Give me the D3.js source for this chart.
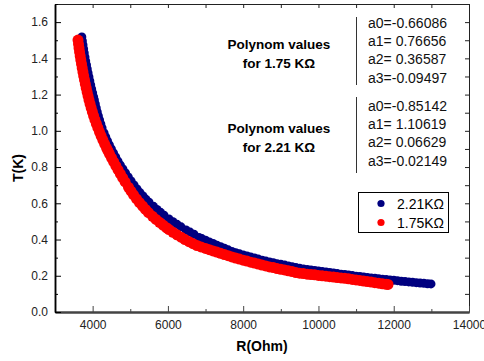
<!DOCTYPE html>
<html>
<head>
<meta charset="utf-8">
<script src="https://cdn.jsdelivr.net/npm/d3@7"></script>
<style>
  body { margin: 0; background: #fff; }
  svg { display: block; font-family: "Liberation Sans", Arial, sans-serif; }
</style>
</head>
<body>
<svg width="484" height="361"></svg>
<script>
// 2.21 kOhm sensor, [R (Ohm), T (K)]
const data221 = [
  [3713,1.518],[3728,1.496],[3744,1.474],[3761,1.452],[3778,1.430],[3797,1.407],[3816,1.385],[3837,1.363],
  [3857,1.341],[3879,1.319],[3902,1.297],[3925,1.275],[3949,1.253],[3974,1.231],[4000,1.209],[4027,1.187],
  [4047,1.170],[4071,1.148],[4096,1.126],[4123,1.104],[4152,1.082],[4184,1.060],[4217,1.038],[4251,1.016],
  [4304,0.988],[4348,0.966],[4395,0.944],[4445,0.922],[4498,0.900],[4554,0.878],[4612,0.856],[4673,0.833],
  [4737,0.811],[4804,0.789],[4874,0.767],[4946,0.745],[5021,0.723],[5099,0.701],[5179,0.679],[5258,0.659],
  [5338,0.640],[5418,0.622],[5498,0.606],[5617,0.583],[5710,0.566],[5803,0.550],[5896,0.534],[6029,0.514],
  [6135,0.498],[6242,0.484],[6348,0.470],[6481,0.453],[6587,0.441],[6693,0.429],[6826,0.411],[6900,0.405],
  [7000,0.396],[7100,0.387],[7200,0.378],[7300,0.369],[7400,0.360],[7500,0.352],[7600,0.343],[7700,0.334],
  [7800,0.327],[7900,0.321],[8000,0.315],[8100,0.309],[8200,0.303],[8300,0.298],[8400,0.292],[8500,0.286],
  [8600,0.281],[8700,0.276],[8800,0.272],[8900,0.267],[9000,0.263],[9100,0.259],[9200,0.254],[9300,0.250],
  [9400,0.245],[9500,0.241],[9600,0.238],[9700,0.235],[9800,0.232],[9900,0.229],[10000,0.226],[10100,0.223],
  [10200,0.221],[10300,0.218],[10400,0.215],[10500,0.212],[10600,0.209],[10700,0.207],[10800,0.204],[10900,0.201],
  [11000,0.198],[11100,0.196],[11200,0.193],[11300,0.190],[11400,0.188],[11500,0.186],[11600,0.184],[11700,0.181],
  [11800,0.179],[11900,0.177],[12000,0.175],[12100,0.173],[12200,0.170],[12300,0.168],[12400,0.166],[12500,0.164],
  [12600,0.162],[12700,0.160],[12800,0.158],[12900,0.156],[12990,0.155]
];

// 1.75 kOhm sensor
const data175 = [
  [3611,1.501],[3624,1.479],[3638,1.457],[3653,1.435],[3669,1.413],[3686,1.391],[3704,1.369],[3722,1.347],
  [3742,1.325],[3762,1.303],[3784,1.281],[3806,1.258],[3829,1.236],[3853,1.214],[3878,1.192],[3904,1.170],
  [3932,1.148],[3961,1.126],[3993,1.104],[4026,1.082],[4062,1.060],[4100,1.038],[4140,1.016],[4182,0.993],
  [4226,0.971],[4272,0.949],[4320,0.927],[4370,0.905],[4408,0.889],[4448,0.872],[4503,0.850],[4559,0.828],
  [4617,0.806],[4676,0.784],[4737,0.762],[4799,0.740],[4863,0.718],[4953,0.688],[5019,0.667],[5086,0.647],
  [5165,0.625],[5245,0.604],[5325,0.585],[5405,0.566],[5484,0.549],[5591,0.528],[5684,0.511],[5777,0.495],
  [5870,0.480],[5963,0.465],[6029,0.455],[6135,0.440],[6242,0.426],[6348,0.413],[6454,0.400],[6560,0.388],
  [6667,0.377],[6773,0.367],[6879,0.359],[7000,0.351],[7100,0.344],[7200,0.337],[7300,0.331],[7400,0.324],
  [7500,0.317],[7600,0.311],[7700,0.304],[7800,0.298],[7900,0.292],[8000,0.286],[8100,0.281],[8200,0.275],
  [8300,0.270],[8400,0.265],[8500,0.259],[8600,0.254],[8700,0.249],[8800,0.245],[8900,0.240],[9000,0.236],
  [9100,0.232],[9200,0.227],[9300,0.223],[9400,0.218],[9500,0.214],[9600,0.212],[9700,0.209],[9800,0.207],
  [9900,0.205],[10000,0.202],[10100,0.200],[10200,0.198],[10300,0.195],[10400,0.193],[10500,0.190],[10600,0.188],
  [10700,0.186],[10800,0.183],[10900,0.180],[11000,0.177],[11100,0.174],[11200,0.171],[11300,0.168],[11400,0.165],
  [11500,0.162],[11600,0.159],[11700,0.156],[11800,0.153],[11848,0.152]
];

const xMajor = [4000, 6000, 8000, 10000, 12000, 14000];
const xMinor = [3000, 5000, 7000, 9000, 11000, 13000];
const yMajor = [0, 0.2, 0.4, 0.6, 0.8, 1.0, 1.2, 1.4, 1.6];
const yMinor = [0.1, 0.3, 0.5, 0.7, 0.9, 1.1, 1.3, 1.5, 1.7];

const coef175 = ["a0=-0.66086", "a1= 0.76656", "a2= 0.36587", "a3=-0.09497"];
const coef221 = ["a0=-0.85142", "a1= 1.10619", "a2= 0.06629", "a3=-0.02149"];
const seriesNames = ["2.21K\u03A9", "1.75K\u03A9"];
const seriesColors = ["#000080", "#ff0000"];

const svg = d3.select("svg");
const x = d3.scaleLinear().domain([3000, 14000]).range([55, 469]);
const y = d3.scaleLinear().domain([0, 1.7]).range([312, 4]);

// points: blue first, red drawn over it
svg.append("g").selectAll("circle").data(data221).join("circle")
  .attr("cx", d => x(d[0])).attr("cy", d => y(d[1])).attr("r", 4.5)
  .attr("fill", seriesColors[0]);
svg.append("g").selectAll("circle").data(data175).join("circle")
  .attr("cx", d => x(d[0])).attr("cy", d => y(d[1])).attr("r", 5.5)
  .attr("fill", seriesColors[1]);

// axes, ticks inside
function styleAxis(g, color, width) {
  g.select(".domain").attr("stroke", color).attr("stroke-width", width);
  g.selectAll(".tick line").attr("stroke", color);
  g.selectAll(".tick text").attr("fill", "#222").style("font-size", "12px")
    .style("font-family", "Liberation Sans, Arial, sans-serif");
}

svg.append("g").attr("transform", "translate(0,4)")
  .call(d3.axisTop(x).tickValues(xMajor.concat(xMinor)).tickSize(-4).tickSizeOuter(0).tickFormat(""))
  .call(g => styleAxis(g, "#222", 1));
svg.append("g").attr("transform", "translate(469,0)")
  .call(d3.axisRight(y).tickValues(yMajor.concat(yMinor)).tickSize(-4).tickSizeOuter(0).tickFormat(""))
  .call(g => styleAxis(g, "#222", 1));

svg.append("g").attr("transform", "translate(0,312)")
  .call(d3.axisBottom(x).tickValues(xMinor).tickSize(-3).tickSizeOuter(0).tickFormat(""))
  .call(g => styleAxis(g, "#444", 2));
svg.append("g").attr("transform", "translate(0,312)")
  .call(d3.axisBottom(x).tickValues(xMajor).tickSize(-6).tickSizeOuter(0).tickPadding(8).tickFormat(d3.format("d")))
  .call(g => styleAxis(g, "#444", 2));

svg.append("g").attr("transform", "translate(55,0)")
  .call(d3.axisLeft(y).tickValues(yMinor).tickSize(-3).tickSizeOuter(0).tickFormat(""))
  .call(g => styleAxis(g, "#000", 1.5));
svg.append("g").attr("transform", "translate(55,0)")
  .call(d3.axisLeft(y).tickValues(yMajor).tickSize(-6).tickSizeOuter(0).tickPadding(7).tickFormat(d3.format(".1f")))
  .call(g => styleAxis(g, "#000", 1.5));

// axis titles
svg.append("text").attr("x", 262).attr("y", 351).attr("text-anchor", "middle")
  .style("font-size", "14px").style("font-weight", "bold").text("R(Ohm)");
svg.append("text").attr("transform", "translate(22.5,168) rotate(-90)").attr("text-anchor", "middle")
  .style("font-size", "14px").style("font-weight", "bold").text("T(K)");

// polynom annotations
const notes = [
  { title: ["Polynom values", "for 1.75 K\u03A9"], tY: 49, coef: coef175, cY: 28, line: [17, 85] },
  { title: ["Polynom values", "for 2.21 K\u03A9"], tY: 133, coef: coef221, cY: 111, line: [97, 173] }
];
notes.forEach(n => {
  n.title.forEach((t, i) => {
    svg.append("text").attr("x", 279).attr("y", n.tY + i * 19).attr("text-anchor", "middle")
      .style("font-size", "13.5px").style("font-weight", "bold").text(t);
  });
  svg.append("line").attr("x1", 356.5).attr("x2", 356.5).attr("y1", n.line[0]).attr("y2", n.line[1])
    .attr("stroke", "#333").attr("stroke-width", 1);
  n.coef.forEach((t, i) => {
    svg.append("text").attr("x", 368).attr("y", n.cY + i * 18.2)
      .style("font-size", "14px").attr("fill", "#111").style("white-space", "pre").text(t);
  });
});

// legend
const legend = svg.append("g");
legend.append("rect").attr("x", 358.5).attr("y", 192.5).attr("width", 90).attr("height", 40)
  .attr("fill", "#fff").attr("stroke", "#000").attr("stroke-width", 1);
seriesNames.forEach((name, i) => {
  legend.append("circle").attr("cx", 381).attr("cy", 203.5 + i * 19).attr("r", 3.6).attr("fill", seriesColors[i]);
  legend.append("text").attr("x", 397).attr("y", 208.5 + i * 19).style("font-size", "14px").text(name);
});
</script>
</body>
</html>
